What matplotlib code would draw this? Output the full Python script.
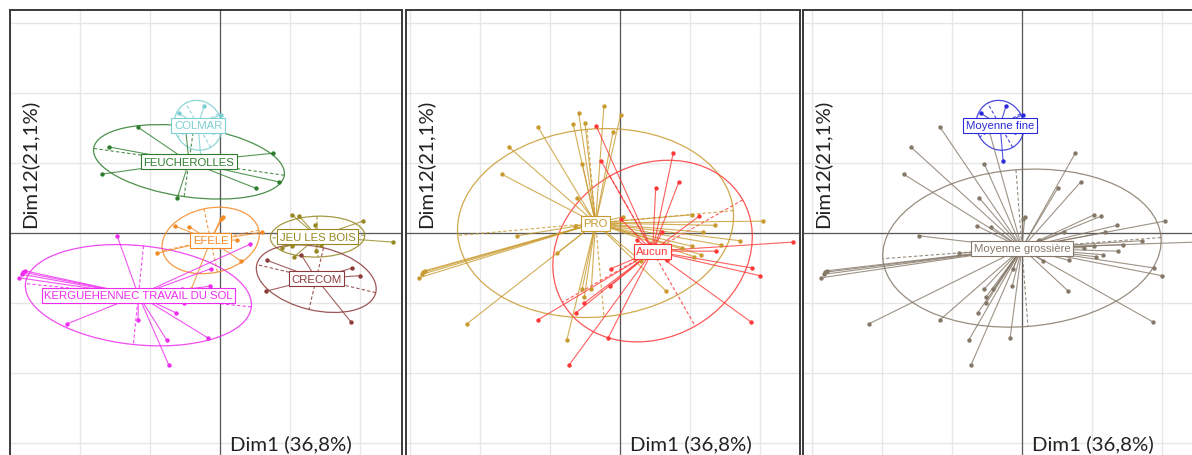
import numpy as np
import matplotlib.pyplot as plt
from matplotlib.patches import Ellipse

# individuals on the factorial plane (Dim1, Dim12), one entry per plot
ind_x = [-0.23, -0.59, 0.01, -0.27, -0.67, -0.10, -0.34,
         -1.17, -1.59, -1.69, -0.61, 0.51, 0.84, 0.76, -0.50, -0.54,
         -0.64, -0.44, -0.90, 0.01, 0.04, 0.24, 0.60, 0.30, -0.41,
         -1.47, -2.87, -2.83, -2.81, -2.79, -2.19, -1.17, -0.76, -0.73,
         -0.63, -0.17, -0.54, -0.14, -0.13, 0.43, -0.51, -0.51,
         1.03, 1.13, 1.36, 2.04, 2.47, 0.89, 1.03, 1.37, 1.44, 1.06, 1.19, 1.71,
         0.67, 0.66, 1.89, 2.00, 1.87, 1.16]
ind_y = [1.81, 1.71, 1.69, 1.03, 1.56, 1.44, 1.53,
         1.51, 1.23, 0.84, 0.50, 0.64, 0.73, 1.14, 1.57, 0.99,
         0.10, 0.09, -0.29, 0.20, 0.23, -0.10, 0.01, -0.40, -0.80,
         -0.04, -0.64, -0.59, -0.56, -0.54, -1.30, -1.24, -1.53, -1.89,
         -1.14, -1.50, -0.80, -0.76, -0.51, -0.16, -0.91, -1.00,
         0.26, 0.24, 0.11, 0.17, -0.13, -0.21, -0.19, -0.26, -0.17, -0.34, 0.01, -0.11,
         -0.39, -0.83, -0.50, -0.61, -1.27, -0.31]
# site index into site_names
ind_site = [0, 0, 0, 0, 0, 0, 0,
            1, 1, 1, 1, 1, 1, 1, 1, 1,
            2, 2, 2, 2, 2, 2, 2, 2, 2,
            3, 3, 3, 3, 3, 3, 3, 3, 3, 3, 3, 3, 3, 3, 3, 3, 3,
            4, 4, 4, 4, 4, 4, 4, 4, 4, 4, 4, 4,
            5, 5, 5, 5, 5, 5]
ind_pro = ["PRO", "PRO", "PRO", "Aucun", "PRO", "PRO", "Aucun",
           "PRO", "PRO", "PRO", "PRO", "Aucun", "Aucun", "Aucun", "PRO", "PRO",
           "PRO", "PRO", "PRO", "Aucun", "PRO", "Aucun", "Aucun", "PRO", "PRO",
           "PRO", "PRO", "PRO", "PRO", "PRO", "PRO", "Aucun", "PRO", "Aucun",
           "Aucun", "Aucun", "PRO", "Aucun", "Aucun", "Aucun", "PRO", "Aucun",
           "PRO", "Aucun", "PRO", "PRO", "Aucun", "PRO", "PRO", "Aucun", "PRO", "PRO", "PRO", "PRO",
           "Aucun", "PRO", "Aucun", "Aucun", "Aucun", "PRO"]

site_names = ["COLMAR", "FEUCHEROLLES", "EFELE", "KERGUEHENNEC TRAVAIL DU SOL",
              "JEU LES BOIS", "CRECOM"]
site_colors = ["#7ccfd2", "#2d7d2d", "#f28a26", "#ee2cee", "#978720", "#8c3a3a"]
pro_names = ["PRO", "Aucun"]
pro_colors = ["#c99a2e", "#ff3838"]
texture_names = ["Moyenne fine", "Moyenne grossière"]
texture_colors = ["#2a2ad8", "#857868"]
fine_sites = ["COLMAR"]

x_label = "Dim1 (36,8%)"
y_label = "Dim12(21,1%)"


def draw_class(ax, xs, ys, groups, names, colors):
    """ade4 s.class like: stars, 1.5 sd ellipses with dashed axes, boxed labels"""
    xs = np.asarray(xs)
    ys = np.asarray(ys)
    groups = np.asarray(groups)
    centers = []
    for name, col in zip(names, colors):
        m = groups == name
        px, py = xs[m], ys[m]
        cx, cy = px.mean(), py.mean()
        for x, y in zip(px, py):
            ax.plot([cx, x], [cy, y], color=col, lw=0.8, alpha=0.8, zorder=3)
        ax.scatter(px, py, s=10, color=col, zorder=4, linewidths=0)
        cov = np.cov(np.vstack([px, py]), bias=True)
        vals, vecs = np.linalg.eigh(cov)
        half = 1.5 * np.sqrt(vals)
        angle = np.degrees(np.arctan2(vecs[1, 1], vecs[0, 1]))
        ax.add_patch(Ellipse((cx, cy), 2 * half[1], 2 * half[0], angle=angle,
                             fill=False, ec=col, lw=0.9, alpha=0.85, zorder=2))
        for k in range(2):
            v = vecs[:, k] * half[k]
            ax.plot([cx - v[0], cx + v[0]], [cy - v[1], cy + v[1]], color=col,
                    lw=0.8, ls=(0, (3, 2)), alpha=0.85, zorder=2)
        centers.append((cx, cy, name, col))
    for cx, cy, name, col in centers:
        ax.text(cx, cy, name, color=col, fontsize=8.2, family="Liberation Sans",
                ha="center", va="center", zorder=6,
                bbox=dict(boxstyle="square,pad=0.22", fc="white", ec=col, lw=0.8))


fig = plt.figure(figsize=(11.92, 4.56), dpi=100)
W, H = 1192.0, 456.0
unit = 70.0        # pixels per grid step
top, bottom = 11, 476
# (left border px, right border px, origin px)
panels = [(10, 402, 220), (406, 800, 620), (803, 1200, 1022)]

site_groups = [site_names[i] for i in ind_site]
texture_groups = [texture_names[0] if s in fine_sites else texture_names[1] for s in site_groups]
panel_data = [(site_groups, site_names, site_colors),
              (ind_pro, pro_names, pro_colors),
              (texture_groups, texture_names, texture_colors)]

for (left, right, origin), (groups, names, colors) in zip(panels, panel_data):
    ax = fig.add_axes([left / W, (H - bottom) / H, (right - left) / W, (bottom - top) / H])
    x0, x1 = (left - origin) / unit, (right - origin) / unit
    y0, y1 = (234 - bottom) / unit, (234 - top) / unit
    ax.set_xlim(x0, x1)
    ax.set_ylim(y0, y1)
    ax.set_xticks([])
    ax.set_yticks([])
    for k in range(-3, 4):
        ax.axvline(k, color="#e6e6e6", lw=1.0, zorder=0)
        ax.axhline(k, color="#e6e6e6", lw=1.0, zorder=0)
    ax.axvline(0, color="#5a5a5a", lw=0.9, zorder=1)
    ax.axhline(0, color="#5a5a5a", lw=0.9, zorder=1)
    for side in ["top", "left", "right"]:
        ax.spines[side].set_color("#3a3a3a")
        ax.spines[side].set_linewidth(1.4)
    ax.spines["bottom"].set_visible(False)

    draw_class(ax, ind_x, ind_y, groups, names, colors)

    ax.text(0.14, -3.0, x_label, fontsize=14.7, family="Lato", color="#222222",
            ha="left", va="center", zorder=7)
    ax.text(x0 + 0.27, 1.0, y_label, fontsize=14.7, family="Lato", color="#222222",
            rotation=90, ha="center", va="center", zorder=7)

fig.savefig("out.png", dpi=100)
